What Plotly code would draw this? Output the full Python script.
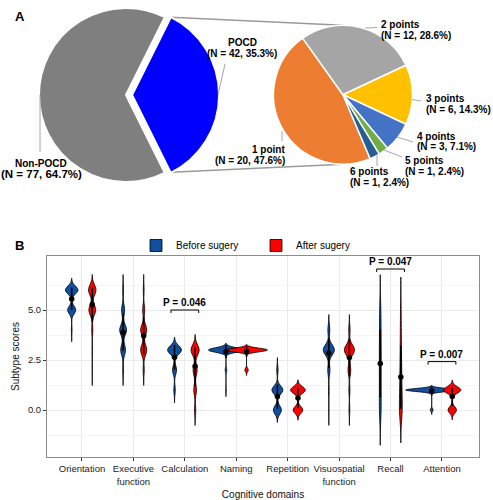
import numpy as np
import plotly.graph_objects as go

# ---------------- Panel A data ----------------
pocd_labels = ["POCD", "Non-POCD"]
pocd_counts = [42, 77]
pocd_colors = ["#0000ff", "#7f7f7f"]

points_labels = ["1 point", "2 points", "3 points", "4 points", "5 points", "6 points"]
points_counts = [20, 12, 6, 3, 1, 1]
points_colors = ["#ed7d31", "#a5a5a5", "#ffc000", "#4472c4", "#70ad47", "#255e91"]

# ---------------- Panel B data ----------------
domains = ["Orientation", "Executive<br>function", "Calculation", "Naming",
           "Repetition", "Visuospatial<br>function", "Recall", "Attention"]
score_levels = [0, 1, 2, 3, 4, 5, 6]
# number of patients at each score level (0..6), before / after surgery
orientation_before = [0, 0, 0, 0, 4, 45, 70]
orientation_after = [0, 0, 2, 4, 8, 50, 55]
executive_before = [0, 0, 6, 35, 50, 22, 6]
executive_after = [0, 0, 8, 45, 45, 15, 6]
calculation_before = [0, 9, 25, 85, 0, 0, 0]
calculation_after = [9, 20, 30, 60, 0, 0, 0]
naming_before = [0, 2, 5, 112, 0, 0, 0]
naming_after = [0, 0, 9, 110, 0, 0, 0]
repetition_before = [47, 64, 8, 0, 0, 0, 0]
repetition_after = [47, 72, 0, 0, 0, 0, 0]
visuospatial_before = [2, 5, 16, 82, 14, 0, 0]
visuospatial_after = [6, 8, 20, 75, 10, 0, 0]
recall_before = [24, 19, 21, 21, 18, 16, 0]
recall_after = [38, 27, 20, 15, 11, 8, 0]
attention_before = [6, 113, 0, 0, 0, 0, 0]
attention_after = [39, 80, 0, 0, 0, 0, 0]

group_names = ["Before sugery", "After sugery"]
group_colors = ["#11509e", "#ff0000"]

sig_domain_index = [3, 7, 8]
sig_pvalues = ["0.046", "0.047", "0.007"]
sig_heights = [5.0, 7.05, 2.42]

before_sets = [orientation_before, executive_before, calculation_before, naming_before,
               repetition_before, visuospatial_before, recall_before, attention_before]
after_sets = [orientation_after, executive_after, calculation_after, naming_after,
              repetition_after, visuospatial_after, recall_after, attention_after]

W, H = 493, 500


def px(x):
    return x / W


def py(y):
    return 1 - y / H


def nrd0(x):
    hi = np.std(x, ddof=1)
    iqr = np.percentile(x, 75) - np.percentile(x, 25)
    lo = min(hi, iqr / 1.34)
    if lo == 0:
        lo = hi or abs(x[0]) or 1.0
    return 0.9 * lo * len(x) ** (-0.2)


def kde_peak(x, bw, span):
    grid = np.linspace(span[0], span[1], 3000)
    z = (grid[:, None] - x[None, :]) / bw
    dens = np.exp(-0.5 * z ** 2).sum(axis=1) / (len(x) * bw * np.sqrt(2 * np.pi))
    return dens.max()


fig = go.Figure()

# ---------------- Pies ----------------
pull = 0.07
r1 = 87
c1 = (126, 95)
d1 = r1 * (1 + pull)
fig.add_trace(go.Pie(
    labels=pocd_labels, values=pocd_counts, sort=False, direction="clockwise",
    rotation=26.5, pull=[pull, 0],
    marker=dict(colors=pocd_colors, line=dict(color="white", width=2)),
    textinfo="none", hoverinfo="skip", showlegend=False,
    domain=dict(x=[px(c1[0] - d1), px(c1[0] + d1)], y=[py(c1[1] + d1), py(c1[1] - d1)]),
))
r2 = 69.5
c2 = (343, 94.7)
fig.add_trace(go.Pie(
    labels=points_labels, values=points_counts, sort=False, direction="clockwise",
    rotation=157,
    marker=dict(colors=points_colors, line=dict(color="white", width=1.5)),
    textinfo="none", hoverinfo="skip", showlegend=False,
    domain=dict(x=[px(c2[0] - r2), px(c2[0] + r2)], y=[py(c2[1] + r2), py(c2[1] - r2)]),
))

# ---------------- Violins (area-scaled like ggplot) ----------------
offsets = [-0.2, 0.2]
full_width = 1.01
specs = []
for i in range(len(domains)):
    for g, counts in enumerate([before_sets[i], after_sets[i]]):
        vals = np.repeat(score_levels, counts).astype(float)
        bw = nrd0(vals)
        span = [vals.min() - 3 * bw, vals.max() + 3 * bw]
        specs.append((i, g, vals, bw, span, kde_peak(vals, bw, span)))
global_peak = max(s[5] for s in specs)

means_x, means_y, sds = [], [], []
for i, g, vals, bw, span, peak in specs:
    pos = i + 1 + offsets[g]
    fig.add_trace(go.Violin(
        x0=pos, y=vals, name=group_names[g], legendgroup=group_names[g],
        showlegend=(i == 0), width=full_width * peak / global_peak,
        scalegroup=f"v{i}_{g}", scalemode="width",
        bandwidth=bw, spanmode="manual", span=span,
        fillcolor=group_colors[g], line=dict(color="black", width=0.8),
        points=False, box_visible=False, meanline_visible=False, opacity=1,
        hoverinfo="skip", xaxis="x", yaxis="y",
    ))
    means_x.append(pos)
    means_y.append(vals.mean())
    sds.append(vals.std(ddof=1))

fig.add_trace(go.Scatter(
    x=means_x, y=means_y, mode="markers",
    marker=dict(color="black", size=5.5),
    error_y=dict(type="data", array=sds, color="black", thickness=1.6, width=0),
    showlegend=False, hoverinfo="skip", xaxis="x", yaxis="y",
))

shapes = []
annotations = []
for k, idx in enumerate(sig_domain_index):
    x0, x1 = idx - 0.27, idx + 0.27
    yv = sig_heights[k]
    shapes.append(dict(type="path", xref="x", yref="y",
                       path=f"M{x0},{yv - 0.15} L{x0},{yv} L{x1},{yv} L{x1},{yv - 0.15}",
                       line=dict(color="black", width=1)))
    annotations.append(dict(x=idx, y=yv, xref="x", yref="y", text=f"<b>P = {sig_pvalues[k]}</b>",
                            showarrow=False, yanchor="bottom", yshift=0,
                            font=dict(size=10, color="black")))

# ---------------- Pie labels ----------------
lead = "#a6a6a6"


def seg(x0, y0, x1, y1, color=lead, width=1, layer="above"):
    shapes.append(dict(type="line", xref="paper", yref="paper", x0=px(x0), y0=py(y0),
                       x1=px(x1), y1=py(y1), line=dict(color=color, width=width), layer=layer))


# connecting lines between pies
seg(170.7, 17.3, c2[0], c2[1] - r2, color="#9a9a9a", width=1.5, layer="below")
seg(170.7, 172.3, c2[0], c2[1] + r2, color="#9a9a9a", width=1.5, layer="below")

# leader lines
seg(40, 95, 40, 152)
seg(225, 64, 218, 95)
seg(282, 131, 282, 141)
seg(365, 28, 377, 27.5)
seg(412, 99.5, 421, 101)
seg(397, 137, 413, 142)
seg(384, 150, 402, 157)
seg(377, 155, 377, 166)


def label(x, y1, y2, anchor, name, n, total, size2=10):
    pct = n / total * 100
    annotations.append(dict(x=px(x), y=py(y1), xref="paper", yref="paper", text=f"<b>{name}</b>",
                            showarrow=False, xanchor=anchor, yanchor="middle",
                            font=dict(size=10, color="black")))
    annotations.append(dict(x=px(x), y=py(y2), xref="paper", yref="paper",
                            text=f"<b>(N = {n}, {pct:.1f}%)</b>",
                            showarrow=False, xanchor=anchor, yanchor="middle",
                            font=dict(size=size2, color="black")))


total1 = sum(pocd_counts)
label(242, 42.7, 53.3, "center", pocd_labels[0], pocd_counts[0], total1)
label(41, 163.3, 174, "center", pocd_labels[1], pocd_counts[1], total1, size2=11.5)
total2 = pocd_counts[0]
pl_pos = [(287, 149, 160.7, "right"), (379, 24, 35, "left"), (424, 99, 110, "left"),
          (415, 136, 146.7, "left"), (403, 160.7, 171.7, "left"), (348, 171.7, 182.7, "left")]
for (x, y1, y2, a), nm, n in zip(pl_pos, points_labels, points_counts):
    label(x, y1, y2, a, nm, n, total2)

annotations.append(dict(x=px(13), y=py(7), xref="paper", yref="paper", text="<b>A</b>",
                        showarrow=False, font=dict(size=13, color="black")))
annotations.append(dict(x=px(13), y=py(245), xref="paper", yref="paper", text="<b>B</b>",
                        showarrow=False, font=dict(size=13, color="black")))

fig.update_layout(
    width=W, height=H, margin=dict(l=0, r=0, t=0, b=0),
    paper_bgcolor="white", plot_bgcolor="white",
    font=dict(family="Liberation Sans, Arial, sans-serif", size=10, color="black"),
    violinmode="overlay",
    shapes=shapes, annotations=annotations,
    legend=dict(orientation="h", x=px(136), y=py(245.5), xanchor="left", yanchor="middle",
                font=dict(size=10, color="black"), bgcolor="rgba(0,0,0,0)",
                entrywidth=75, traceorder="normal"),
    xaxis=dict(domain=[px(47), px(479)], range=[0.32, 8.72], type="linear",
               tickvals=list(range(1, len(domains) + 1)), ticktext=domains,
               showgrid=True, gridcolor="#ebebeb", gridwidth=1, zeroline=False,
               showline=True, linecolor="#8c8c8c", linewidth=1, mirror=True,
               ticks="outside", ticklen=3, tickcolor="#333333",
               tickfont=dict(size=9.5, color="#222222"), automargin=False,
               title=dict(text="Cognitive domains", font=dict(size=10, color="#111111"), standoff=8)),
    yaxis=dict(domain=[py(457), py(256)], range=[-2.35, 7.7],
               tickvals=[0, 2.5, 5], ticktext=["0.0", "2.5", "5.0"],
               showgrid=True, gridcolor="#ebebeb", gridwidth=1, zeroline=False,
               minor=dict(tickvals=[-1.25, 1.25, 3.75, 6.25], showgrid=True, gridcolor="#f5f5f5"),
               showline=True, linecolor="#8c8c8c", linewidth=1, mirror=True,
               ticks="outside", ticklen=3, tickcolor="#333333",
               tickfont=dict(size=9.5, color="#222222"), automargin=False,
               title=dict(text="Subtype scores", font=dict(size=10, color="#111111"), standoff=6)),
)

fig.write_html("out.html", config={"displayModeBar": False},
               post_script="document.body.style.margin='0';")
